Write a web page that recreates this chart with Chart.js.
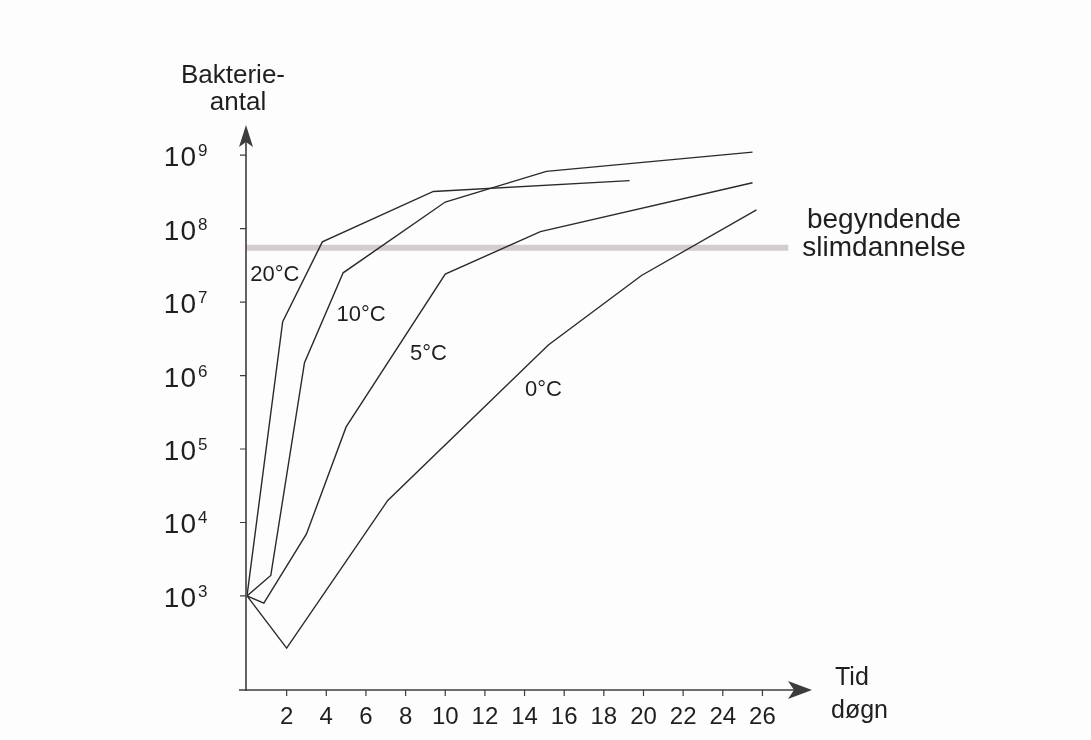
<!DOCTYPE html>
<html lang="da">
<head>
  <meta charset="UTF-8" />
  <title>Bakterieantal ved forskellige temperaturer</title>
  <script src="https://cdn.jsdelivr.net/npm/chart.js@4"></script>
  <style>
    html, body { margin: 0; padding: 0; background: #fdfdfd; }
    #wrap { width: 1091px; height: 740px; }
  </style>
</head>
<body>
  <div id="wrap"><canvas id="growthChart" width="1091" height="740"></canvas></div>

  <script>
    // days (x) and bacteria count (y)
    const days20 = [0, 1.8, 3.8, 9.4, 19.3];
    const counts20 = [1e3, 5.4e6, 6.6e7, 3.2e8, 4.5e8];

    const days10 = [0, 1.2, 2.9, 4.85, 10, 15.1, 25.5];
    const counts10 = [1e3, 1.9e3, 1.5e6, 2.5e7, 2.3e8, 6.0e8, 1.1e9];

    const days5 = [0, 0.85, 3.0, 5.0, 10.0, 14.8, 25.5];
    const counts5 = [1e3, 8e2, 7e3, 2e5, 2.4e7, 9.1e7, 4.2e8];

    const days0 = [0, 2, 7.1, 15.2, 19.9, 25.7];
    const counts0 = [1e3, 1.95e2, 2e4, 2.6e6, 2.3e7, 1.8e8];

    // "begyndende slimdannelse" level
    const slimeDays = [0, 27.3];
    const slimeCount = 5.5e7;

    const xTicks = [2, 4, 6, 8, 10, 12, 14, 16, 18, 20, 22, 24, 26];
    const yExponents = [3, 4, 5, 6, 7, 8, 9];

    const curveLabels = ["20°C", "10°C", "5°C", "0°C"];
    const labelDays = [1.4, 5.75, 9.15, 14.95];
    const labelCounts = [2.45e7, 7.2e6, 2.1e6, 6.8e5];

    const FONT = '"Liberation Sans", Arial, sans-serif';
    const INK = "#1f1f1f";

    const toPoints = (xs, ys) => xs.map((x, i) => ({ x: x, y: ys[i] }));

    function curve(xs, ys) {
      return {
        data: toPoints(xs, ys),
        borderColor: "#2a2a2a",
        borderWidth: 1.4,
        pointRadius: 0,
        tension: 0,
        order: 0,
      };
    }

    function text(ctx, str, x, y, size, align, spacing) {
      ctx.font = size + "px " + FONT;
      ctx.letterSpacing = (spacing || 0) + "px";
      ctx.textAlign = align || "left";
      ctx.textBaseline = "alphabetic";
      ctx.fillText(str, x, y);
      ctx.letterSpacing = "0px";
    }

    const figurePlugin = {
      id: "figure",
      afterDraw(chart) {
        const { ctx, chartArea: a } = chart;
        const xs = chart.scales.x;
        const ys = chart.scales.y;
        const ax = a.left - 1;

        ctx.save();
        ctx.strokeStyle = "#3c3c3c";
        ctx.fillStyle = "#3c3c3c";
        ctx.lineWidth = 1.6;

        // y axis with arrow
        ctx.beginPath();
        ctx.moveTo(ax, a.bottom + 1);
        ctx.lineTo(ax, a.top + 14);
        ctx.stroke();
        ctx.beginPath();
        ctx.moveTo(ax, a.top);
        ctx.lineTo(ax + 7, a.top + 22);
        ctx.lineTo(ax, a.top + 17);
        ctx.lineTo(ax - 7, a.top + 22);
        ctx.closePath();
        ctx.fill();

        // x axis with arrow
        ctx.beginPath();
        ctx.moveTo(ax - 7, a.bottom);
        ctx.lineTo(a.right - 14, a.bottom);
        ctx.stroke();
        ctx.beginPath();
        ctx.moveTo(a.right, a.bottom);
        ctx.lineTo(a.right - 24, a.bottom - 9);
        ctx.lineTo(a.right - 18, a.bottom);
        ctx.lineTo(a.right - 24, a.bottom + 9);
        ctx.closePath();
        ctx.fill();

        // tick marks
        ctx.lineWidth = 1.2;
        ctx.beginPath();
        xTicks.forEach(t => {
          const px = xs.getPixelForValue(t);
          ctx.moveTo(px, a.bottom);
          ctx.lineTo(px, a.bottom + 6);
        });
        yExponents.forEach(e => {
          const py = ys.getPixelForValue(Math.pow(10, e));
          ctx.moveTo(ax, py);
          ctx.lineTo(ax - 6, py);
        });
        ctx.stroke();

        ctx.fillStyle = INK;

        // tick labels
        xTicks.forEach(t => text(ctx, String(t), xs.getPixelForValue(t), a.bottom + 34, 24, "center"));
        yExponents.forEach(e => {
          const py = ys.getPixelForValue(Math.pow(10, e));
          text(ctx, "10", 197, py + 11, 28, "right", 1);
          text(ctx, String(e), 198, py + 1, 17, "left");
        });

        // axis titles
        text(ctx, "Bakterie-", 233, 83, 26, "center");
        text(ctx, "antal", 238, 110, 26, "center");
        text(ctx, "Tid", 835, 685, 25, "left");
        text(ctx, "døgn", 831, 718, 25, "left");

        // slime note
        text(ctx, "begyndende", 884, 228, 28, "center");
        text(ctx, "slimdannelse", 884, 256, 28, "center");

        // curve labels
        curveLabels.forEach((lbl, i) => {
          const px = xs.getPixelForValue(labelDays[i]);
          const py = ys.getPixelForValue(labelCounts[i]);
          text(ctx, lbl, px, py + 8, 22, "center");
        });

        ctx.restore();
      },
    };

    const ctx = document.getElementById("growthChart").getContext("2d");

    new Chart(ctx, {
      type: "line",
      data: {
        datasets: [
          curve(days20, counts20),
          curve(days10, counts10),
          curve(days5, counts5),
          curve(days0, counts0),
          {
            data: toPoints(slimeDays, slimeDays.map(() => slimeCount)),
            borderColor: "rgba(198, 188, 190, 0.75)",
            borderWidth: 6,
            pointRadius: 0,
            order: 5,
          },
        ],
      },
      options: {
        responsive: false,
        animation: false,
        layout: { padding: { left: 247, right: 279, top: 125, bottom: 50 } },
        plugins: {
          legend: { display: false },
          tooltip: { enabled: false },
        },
        scales: {
          x: { type: "linear", min: 0, max: 28.5, display: false },
          y: { type: "logarithmic", min: 52.5, max: 2.57e9, display: false },
        },
      },
      plugins: [figurePlugin],
    });
  </script>
</body>
</html>
